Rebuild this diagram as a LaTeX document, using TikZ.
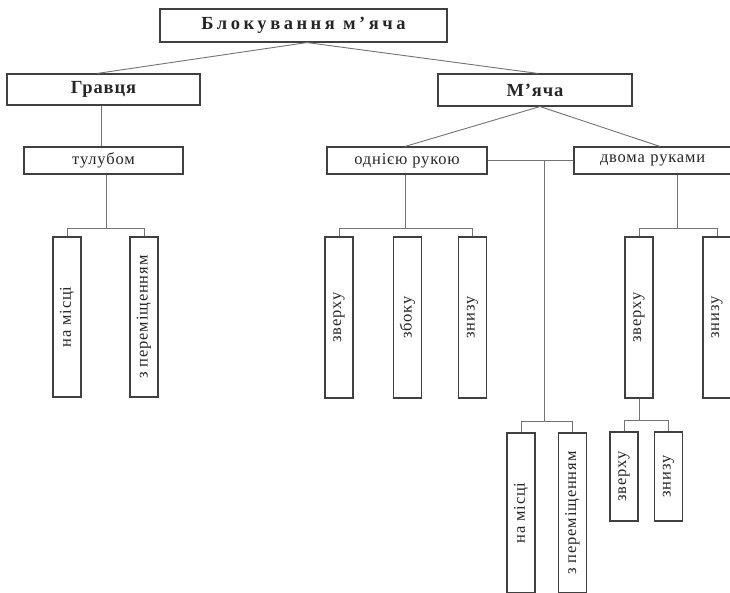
\documentclass[tikz,border=0pt]{standalone}
\usepackage{fontspec}
\setmainfont{Liberation Serif}
\newfontfamily\regfont[LetterSpace=5]{Liberation Serif}
\newfontfamily\titlefont[LetterSpace=19]{Liberation Serif}
\usetikzlibrary{calc}
\tikzset{
  box/.style={draw=black!75, line width=1.1pt, fill=white, inner sep=0pt,
    text=black!85, font=\regfont\fontsize{16.5}{18}\selectfont},
  hbox/.style={box, font=\regfont\bfseries\fontsize{18.5}{20}\selectfont},
  tbox/.style={box, font=\titlefont\bfseries\fontsize{18.5}{20}\selectfont},
  vbox/.style={box, minimum width=28pt},
  conn/.style={draw=black!55, line width=0.9pt},
}
\begin{document}
\begin{tikzpicture}[x=1pt,y=-1pt]
\clip (0,0) rectangle (730,592);
\fill[white] (0,0) rectangle (730,592);
% level 0
\node[tbox, minimum width=287pt, minimum height=33pt] (top) at (303.5,25.5) {Блокування м’яча};
% level 1
\node[hbox, minimum width=193pt, minimum height=31pt] (gr) at (103.5,89.5) {Гравця};
\node[hbox, minimum width=194pt, minimum height=32pt] (mya) at (535,90) {М’яча};
% level 2
\node[box, minimum width=159pt, minimum height=27pt] (tul) at (103.5,160.5) {тулубом};
\node[box, minimum width=160pt, minimum height=27pt] (odn) at (407,160.5) {однією рукою};
\node[box, minimum width=206pt, minimum height=27pt, text width=160pt, align=left] (dvo) at (677,160.5) {\hspace*{3pt}двома руками};
% level 3
\node[vbox, minimum height=160pt] (nm1) at (67,317) {\rotatebox{90}{на місці}};
\node[vbox, minimum height=160pt] (zp1) at (144,317) {\rotatebox{90}{з переміщенням}};
\node[vbox, minimum height=161pt] (zv1) at (339,317.5) {\rotatebox{90}{зверху}};
\node[vbox, minimum height=161pt] (zb) at (407.5,317.5) {\rotatebox{90}{збоку}};
\node[vbox, minimum height=161pt] (zn1) at (472.5,317.5) {\rotatebox{90}{знизу}};
\node[vbox, minimum height=161pt] (zv2) at (639,317.5) {\rotatebox{90}{зверху}};
\node[vbox, minimum height=161pt] (zn2) at (717,317.5) {\rotatebox{90}{знизу}};
\node[vbox, minimum height=160pt] (nm2) at (521,513) {\rotatebox{90}{на місці}};
\node[vbox, minimum height=160pt] (zp2) at (572.5,513) {\rotatebox{90}{з переміщенням}};
\node[vbox, minimum height=89pt] (zv3) at (624,476.5) {\rotatebox{90}{зверху}};
\node[vbox, minimum height=89pt] (zn3) at (668.5,476.5) {\rotatebox{90}{знизу}};
% connectors
\draw[conn] ([xshift=3.5pt]top.south) -- ([xshift=-6.5pt]gr.north);
\draw[conn] ([xshift=3.5pt]top.south) -- ([xshift=3pt]mya.north);
\draw[conn] ([xshift=-2.5pt]gr.south) -- ([xshift=-2.5pt]tul.north);
\draw[conn] ([xshift=5pt]mya.south) -- ([xshift=-2pt]odn.north);
\draw[conn] ([xshift=5pt]mya.south) -- ([xshift=-17pt]dvo.north);
\draw[conn] (odn.east) -- (dvo.west);
\coordinate (mid) at ($(odn.east)!0.667!(dvo.west)$);
% brackets
\draw[conn] ([xshift=2.5pt]tul.south) -- ([xshift=2.5pt]tul.south |- 0,228);
\draw[conn] (nm1.north) -- (nm1.north |- 0,228) -- (zp1.north |- 0,228) -- (zp1.north);
\draw[conn] ([xshift=-2pt]odn.south) -- ([xshift=-2pt]odn.south |- 0,228);
\draw[conn] (zv1.north) -- (zv1.north |- 0,228) -- (zn1.north |- 0,228) -- (zn1.north);
\draw[conn] (dvo.south) -- (dvo.south |- 0,228);
\draw[conn] (zv2.north) -- (zv2.north |- 0,228) -- (zn2.north |- 0,228) -- (zn2.north);
\draw[conn] (mid) -- (mid |- 0,421);
\draw[conn] (nm2.north) -- (nm2.north |- 0,421) -- (zp2.north |- 0,421) -- (zp2.north);
\draw[conn] (zv2.south) -- (zv2.south |- 0,420);
\draw[conn] (zv3.north) -- (zv3.north |- 0,420) -- (zn3.north |- 0,420) -- (zn3.north);
\end{tikzpicture}
\end{document}
